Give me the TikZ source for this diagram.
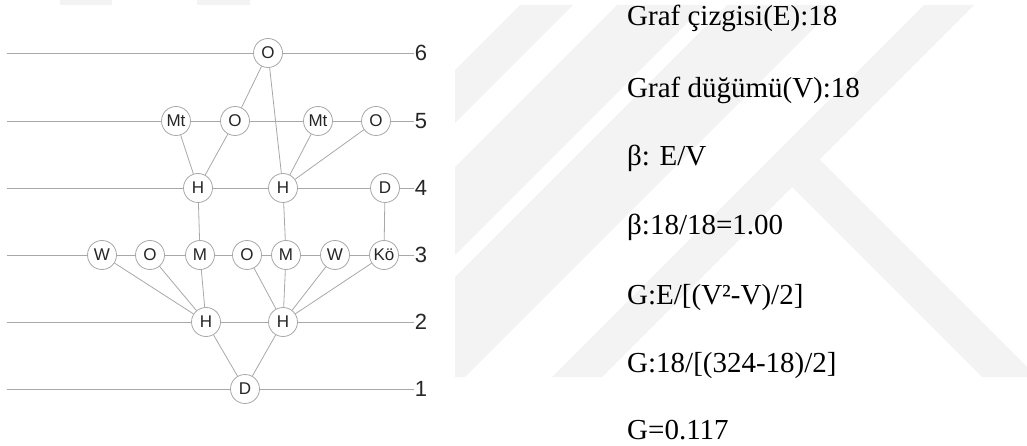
\documentclass[tikz,border=0pt]{standalone}
\usepackage{fontspec}
\newfontfamily\arialfont{Liberation Sans}
\newfontfamily\timesfont{Liberation Serif}
\definecolor{railgray}{HTML}{A8A8A8}
\definecolor{markgray}{HTML}{F3F3F3}

\begin{document}
\begin{tikzpicture}[x=1pt, y=-1pt,
  vtx/.style  ={circle, draw=railgray, fill=white, line width=0.8pt,
                minimum size=29pt, inner sep=0pt, text=black!85,
                font=\arialfont\fontsize{17}{17}\selectfont},
  lvl/.style  ={inner sep=1pt, text=black!85,
                font=\arialfont\fontsize{22}{22}\selectfont},
  rail/.style ={line width=0.9pt, railgray},
  link/.style ={line width=0.8pt, railgray},
  stat/.style ={anchor=base west, inner sep=0pt,
                font=\timesfont\fontsize{29}{29}\selectfont},
  wmark/.style={fill=markgray, draw=none},
]
\useasboundingbox (0,0) rectangle (1027,446);

% ---------------- faint background mark ----------------
\fill[wmark] (60,0) rectangle (112,5);
\fill[wmark] (197,0) rectangle (250,5);
\begin{scope}
  \clip (455,5) rectangle (1027,377);
  \fill[wmark] (520,5) -- (573,5) -- (201,377) -- (148,377) -- cycle;
  \fill[wmark] (617,5) -- (705,5) -- (333,377) -- (245,377) -- cycle;
  \fill[wmark] (727,5) -- (837,5) -- (465,377) -- (355,377) -- cycle;
  \fill[wmark] (924,5) -- (974,5) -- (602,377) -- (552,377) -- cycle;
  \fill[wmark] (777.5,172.5) -- (805,145) -- (1037,377) -- (982,377) -- cycle;
\end{scope}

% ---------------- levels ----------------
\foreach \lv/\yy in {1/389, 2/322, 3/255, 4/188, 5/121, 6/53} {
  \node[lvl] (n\lv) at (421,\yy) {\lv};
  \coordinate (s\lv) at (7,\yy);
  \draw[rail] (s\lv) -- (n\lv);
}

% ---------------- vertices ----------------
\node[vtx] (o6)   at (268,53)  {O};

\node[vtx] (mt5a) at (176,121) {Mt};
\node[vtx] (o5a)  at (235,121) {O};
\node[vtx] (mt5b) at (318,121) {Mt};
\node[vtx] (o5b)  at (376,121) {O};

\node[vtx] (h4a)  at (198,188) {H};
\node[vtx] (h4b)  at (283,188) {H};
\node[vtx] (d4)   at (385,188) {D};

\node[vtx] (w3a)  at (102,255) {W};
\node[vtx] (o3a)  at (150,255) {O};
\node[vtx] (m3a)  at (200,255) {M};
\node[vtx] (o3b)  at (247,255) {O};
\node[vtx] (m3b)  at (286,255) {M};
\node[vtx] (w3b)  at (335,255) {W};
\node[vtx] (ko3)  at (384,255) {Kö};

\node[vtx] (h2a)  at (206,322) {H};
\node[vtx] (h2b)  at (283,322) {H};

\node[vtx] (d1)   at (245,389) {D};

% ---------------- links ----------------
\draw[link] (o6) -- (o5a);
\draw[link] (o6) -- (h4b);
\draw[link] (mt5a) -- (h4a);
\draw[link] (o5a) -- (h4a);
\draw[link] (mt5b) -- (h4b);
\draw[link] (o5b) -- (h4b);
\draw[link] (h4a) -- (m3a);
\draw[link] (h4b) -- (m3b);
\draw[link] (d4) -- (ko3);
\draw[link] (w3a) -- (h2a);
\draw[link] (o3a) -- (h2a);
\draw[link] (m3a) -- (h2a);
\draw[link] (o3b) -- (h2b);
\draw[link] (m3b) -- (h2b);
\draw[link] (w3b) -- (h2b);
\draw[link] (ko3) -- (h2b);
\draw[link] (h2a) -- (d1);
\draw[link] (h2b) -- (d1);

% ---------------- measures ----------------
\node[stat] (t1) at (627,26)  {Graf çizgisi(E):18};
\node[stat] (t2) at (627,98)  {Graf düğümü(V):18};
\node[stat] (t3) at (627,166) {β: E/V};
\node[stat] (t4) at (627,235) {β:18/18=1.00};
\node[stat] (t5) at (627,304) {G:E/[(V²-V)/2]};
\node[stat] (t6) at (627,372) {G:18/[(324-18)/2]};
\node[stat] (t7) at (627,439) {G=0.117};

\end{tikzpicture}
\end{document}
